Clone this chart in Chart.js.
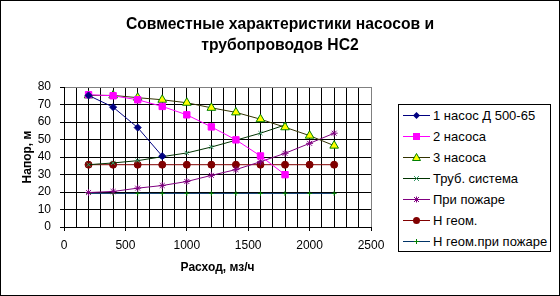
<!DOCTYPE html>
<html>
<head>
<meta charset="utf-8">
<script src="https://cdn.jsdelivr.net/npm/chart.js@4.4.0/dist/chart.umd.min.js"></script>
<style>
  html, body { margin: 0; padding: 0; background: #fff; }
  #wrap { width: 560px; height: 296px; position: relative; background: #fff; }
  #gridLayer, #chart { position: absolute; left: 0; top: 0; }
  #frame { position: absolute; left: 0; top: 0; width: 558px; height: 294px; border: 1px solid #000; pointer-events: none; }
  #legend { position: absolute; left: 398px; top: 104px; width: 151px; height: 146px; border: 1px solid #000; background: #fff;
            font: 13px Arial, "Liberation Sans", sans-serif; color: #000; }
  #legend .row { position: relative; height: 21px; }
  #legend svg { position: absolute; left: 4px; top: 0; }
  #legend span { position: absolute; left: 34px; top: 0; line-height: 21px; white-space: nowrap; }
</style>
</head>
<body>
<div id="wrap">
  <canvas id="gridLayer" width="560" height="296"></canvas>
  <canvas id="chart" width="560" height="296"></canvas>
  <div id="legend"></div>
  <div id="frame"></div>
</div>
<script>
// расход, м3/ч
const flow = [200, 400, 600, 800, 1000, 1200, 1400, 1600, 1800, 2000, 2200];

// напор, м
const pump1 = [75.2, 68.5, 56.8, 40.5];
const pump2 = [75.6, 75, 72.7, 68.9, 64.1, 57.2, 49.8, 40.6, 29.9];
const pump3 = [75.2, 75.2, 73.9, 72.7, 71, 68.1, 65.5, 61.6, 57, 52.2, 46.5];
const pipes = [35.6, 36.6, 37.9, 40.2, 42.3, 45.7, 49.6, 53.6, 58.3];
const fire = [19.7, 20.3, 22.2, 23.7, 26, 29.5, 32.8, 37.3, 42.1, 47.8, 53.6];
const hGeom = [35.6, 35.6, 35.6, 35.6, 35.6, 35.6, 35.6, 35.6, 35.6, 35.6, 35.6];
const hGeomFire = [19.2, 19.2, 19.2, 19.2, 19.2, 19.2, 19.2, 19.2, 19.2, 19.2, 19.2];

const seriesNames = ['1 насос Д 500-65', '2 насоса', '3 насоса', 'Труб. система', 'При пожаре', 'Н геом.', 'Н геом.при пожаре'];
const titleLines = ['Совместные характеристики насосов и', 'трубопроводов НС2'];
const xTitle = 'Расход, мз/ч';
const yTitle = 'Напор, м';

const toPoints = ys => ys.map((y, i) => ({ x: flow[i], y }));

const styles = [
  { line: '#000080', fill: '#000080', stroke: '#000080', point: 'rectRot', r: 3.5 },
  { line: '#FF00FF', fill: '#FF00FF', stroke: '#FF00FF', point: 'rect', r: 4.5 },
  { line: '#333300', fill: '#FFFF00', stroke: '#008000', point: 'triangle', r: 5 },
  { line: '#003300', fill: '#339966', stroke: '#339966', point: 'crossRot', r: 3 },
  { line: '#800080', fill: '#800080', stroke: '#800080', point: 'star', r: 3.5 },
  { line: '#800000', fill: '#800000', stroke: '#800000', point: 'circle', r: 3.5 },
  { line: '#003366', fill: '#008000', stroke: '#008000', point: 'cross', r: 2.5 }
];
const values = [pump1, pump2, pump3, pipes, fire, hGeom, hGeomFire];

const datasets = values.map((v, i) => ({
  label: seriesNames[i],
  data: toPoints(v),
  borderColor: styles[i].line,
  borderWidth: 1,
  pointStyle: styles[i].point,
  pointRadius: styles[i].r,
  pointBackgroundColor: styles[i].fill,
  pointBorderColor: styles[i].stroke,
  pointBorderWidth: 1
}));

const FONT = 'Arial, "Liberation Sans", sans-serif';

// маркер легенды: линия серии и значок в середине
function markerSvg(s) {
  const cx = 13.5, cy = 10.5;
  let shape = '';
  switch (s.point) {
    case 'rectRot':
      shape = `<polygon points="${cx},${cy - 3.5} ${cx + 3.5},${cy} ${cx},${cy + 3.5} ${cx - 3.5},${cy}" fill="${s.fill}"/>`;
      break;
    case 'rect':
      shape = `<rect x="${cx - 3.5}" y="${cy - 3.5}" width="7" height="7" fill="${s.fill}"/>`;
      break;
    case 'triangle':
      shape = `<polygon points="${cx},${cy - 4} ${cx + 4},${cy + 3} ${cx - 4},${cy + 3}" fill="${s.fill}" stroke="${s.stroke}"/>`;
      break;
    case 'crossRot':
      shape = `<path d="M${cx - 2.5} ${cy - 2.5}L${cx + 2.5} ${cy + 2.5}M${cx - 2.5} ${cy + 2.5}L${cx + 2.5} ${cy - 2.5}" stroke="${s.stroke}"/>`;
      break;
    case 'star':
      shape = `<path d="M${cx - 3} ${cy}L${cx + 3} ${cy}M${cx} ${cy - 3}L${cx} ${cy + 3}M${cx - 2.5} ${cy - 2.5}L${cx + 2.5} ${cy + 2.5}M${cx - 2.5} ${cy + 2.5}L${cx + 2.5} ${cy - 2.5}" stroke="${s.stroke}"/>`;
      break;
    case 'circle':
      shape = `<circle cx="${cx}" cy="${cy}" r="3.5" fill="${s.fill}"/>`;
      break;
    case 'cross':
      shape = `<path d="M${cx - 2.5} ${cy}L${cx + 2.5} ${cy}M${cx} ${cy - 2.5}L${cx} ${cy + 2.5}" stroke="${s.stroke}"/>`;
      break;
  }
  return `<svg width="27" height="21" viewBox="0 0 27 21"><line x1="0" y1="${cy}" x2="27" y2="${cy}" stroke="${s.line}" stroke-width="1"/>${shape}</svg>`;
}

const legendEl = document.getElementById('legend');
legendEl.innerHTML = seriesNames.map((name, i) =>
  `<div class="row">${markerSvg(styles[i])}<span>${name}</span></div>`).join('');

const chart = new Chart(document.getElementById('chart'), {
  type: 'line',
  data: { datasets },
  options: {
    responsive: false,
    animation: false,
    layout: { padding: 0 },
    plugins: {
      legend: { display: false },
      tooltip: { enabled: false },
      title: {
        display: true,
        text: titleLines,
        color: '#000',
        font: { family: FONT, size: 15.7, weight: 'bold', lineHeight: '21px' },
        padding: { top: 14, bottom: 31 }
      }
    },
    scales: {
      x: {
        type: 'linear',
        min: 0,
        max: 2500,
        afterFit: s => { s.height = 69; },
        ticks: {
          stepSize: 100,
          autoSkip: false,
          maxRotation: 0,
          color: '#000',
          padding: 7,
          font: { family: FONT, size: 12 },
          callback: v => (v % 500 === 0 ? v : '')
        },
        grid: {
          drawOnChartArea: false,
          tickColor: c => (c.tick && c.tick.value % 500 === 0 ? '#000000' : 'rgba(0,0,0,0)'),
          tickLength: 4,
          lineWidth: 1
        },
        border: { color: '#000' },
        title: {
          display: true,
          text: xTitle,
          color: '#000',
          font: { family: FONT, size: 12, weight: 'bold' },
          padding: { top: 0, bottom: 21 }
        }
      },
      y: {
        min: 0,
        max: 80,
        afterFit: s => { s.width = 64; },
        ticks: {
          stepSize: 10,
          color: '#000',
          padding: 9,
          font: { family: FONT, size: 12 }
        },
        grid: { drawOnChartArea: false, tickColor: '#000', tickLength: 4, lineWidth: 1 },
        border: { color: '#000' },
        title: {
          display: true,
          text: yTitle,
          color: '#000',
          font: { family: FONT, size: 12, weight: 'bold' },
          padding: { top: 20, bottom: 0 }
        }
      },
      // пустая ось справа резервирует место под легенду
      yRight: {
        position: 'right',
        display: true,
        afterFit: s => { s.width = 189; },
        ticks: { display: false },
        grid: { display: false, drawOnChartArea: false },
        border: { display: false }
      }
    }
  }
});

// сетка рисуется на отдельном слое под графиком по делениям шкал Chart.js
function drawGridLayer(ch) {
  const g = document.getElementById('gridLayer').getContext('2d');
  const xs = ch.scales.x, ys = ch.scales.y;
  const align = p => Math.round(p - 0.5) + 0.5;
  const top = ys.top, bottom = ys.bottom, left = xs.left, right = xs.right;
  g.clearRect(0, 0, 560, 296);
  g.lineWidth = 1;
  xs.ticks.forEach(t => {
    const px = align(xs.getPixelForValue(t.value));
    g.strokeStyle = t.value === xs.max ? '#808080' : '#000';
    g.beginPath();
    g.moveTo(px, top);
    g.lineTo(px, bottom);
    g.stroke();
  });
  ys.ticks.forEach(t => {
    const py = align(ys.getPixelForValue(t.value));
    g.strokeStyle = t.value === ys.max ? '#808080' : '#000';
    g.beginPath();
    g.moveTo(left, py);
    g.lineTo(right, py);
    g.stroke();
  });
}
drawGridLayer(chart);
</script>
</body>
</html>
